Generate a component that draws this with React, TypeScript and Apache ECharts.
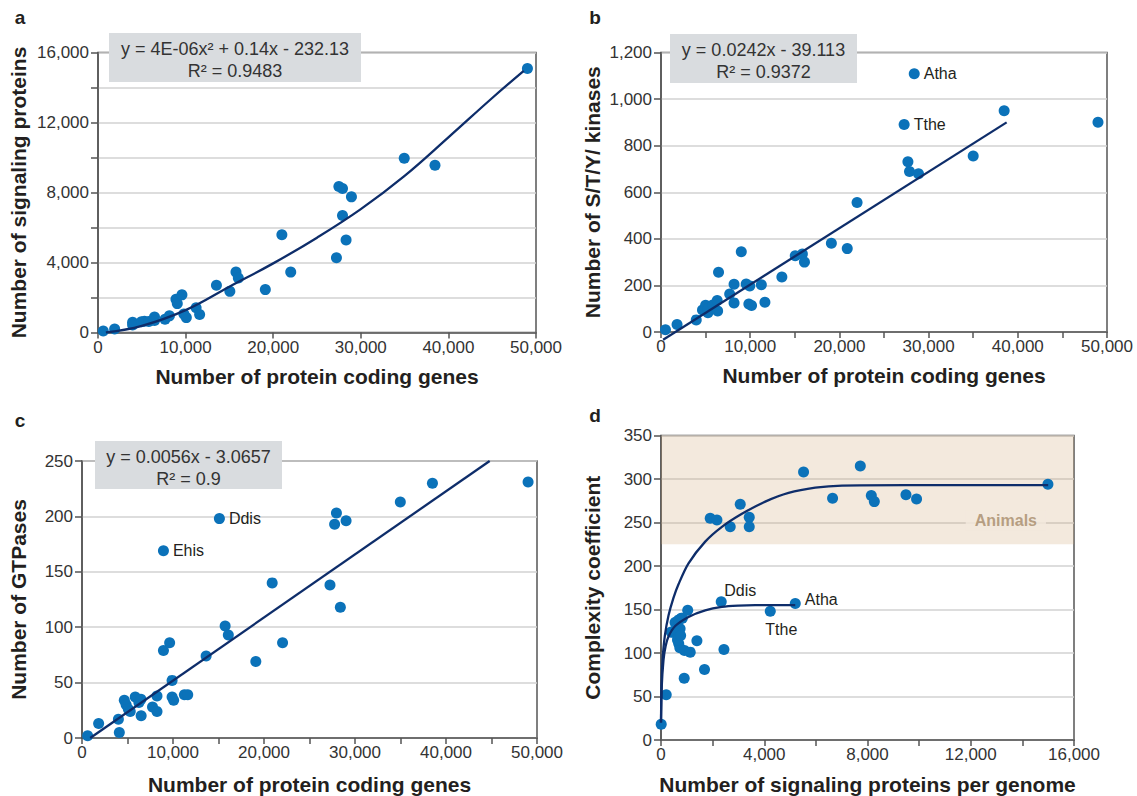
import React, { useEffect, useRef } from "react";
import * as echarts from "echarts";

type Pt = [number, number];
type Named = [string, number, number];

// ---------- Panel a: signaling proteins vs protein coding genes ----------
const signalingA: Pt[] = [
  [600, 80], [1900, 200], [3950, 580], [3950, 430], [4960, 610], [5300, 640], [5800, 630],
  [6450, 880], [6450, 680], [7650, 760], [8150, 950], [8900, 1900], [9050, 1650], [9580, 2150],
  [9800, 1050], [10080, 850], [11200, 1420], [11600, 1030], [13520, 2700], [15050, 2350],
  [15750, 3450], [16020, 3120], [19100, 2450], [20990, 5580], [22000, 3450], [27220, 4270],
  [27500, 8340], [27910, 8230], [27910, 6690], [28320, 5280], [28930, 7750], [34960, 9960],
  [38470, 9560], [49020, 15090],
];
const fitA: Pt[] = [
  [900, 0], [5000, 380], [10000, 1280], [15000, 2620], [20000, 3950], [25000, 5420],
  [30000, 7050], [35000, 8950], [40000, 11150], [45000, 13400], [48600, 14950],
];
const equationA = ["y = 4E-06x² + 0.14x - 232.13", "R² = 0.9483"];

// ---------- Panel b: S/T/Y kinases ----------
const kinasesB: Pt[] = [
  [500, 10], [1800, 32], [3950, 52], [4650, 94], [5000, 115], [5260, 83], [5300, 101], [5800, 116],
  [6300, 135], [6350, 90], [6450, 257], [7700, 163], [8190, 125], [8190, 205], [9000, 345],
  [9550, 206], [9950, 198], [9850, 120], [10150, 114], [11250, 203], [11650, 128], [13550, 236],
  [15050, 327], [15850, 335], [16080, 300], [19100, 381], [20880, 358], [21980, 556], [27680, 731],
  [27860, 689], [28870, 679], [35000, 756], [38470, 950], [48990, 901],
];
const kinasesNamed: Named[] = [["Atha", 28390, 1109], ["Tthe", 27260, 891]];
const fitB: Pt[] = [[240, -33], [38750, 900]];
const equationB = ["y = 0.0242x - 39.113", "R² = 0.9372"];

// ---------- Panel c: GTPases ----------
const gtpasesC: Pt[] = [
  [620, 2], [1830, 13], [4000, 17], [4100, 5], [4650, 34], [4850, 30], [5100, 26], [5300, 24],
  [5850, 37], [6250, 32], [6480, 35], [6500, 20], [7750, 28], [8240, 38], [8240, 24], [8950, 79],
  [9630, 86], [9900, 52], [9900, 37], [10070, 34], [11250, 39], [11620, 39], [13640, 74],
  [15730, 101], [16080, 93], [19100, 69], [20900, 140], [22040, 86], [27250, 138], [27760, 193],
  [27960, 203], [28390, 118], [29020, 196], [34980, 213], [38510, 230], [49020, 231],
];
const gtpasesNamed: Named[] = [["Ddis", 15100, 198], ["Ehis", 8950, 169]];
const fitC: Pt[] = [[900, 0], [44800, 250]];
const equationC = ["y = 0.0056x - 3.0657", "R² = 0.9"];

// ---------- Panel d: complexity coefficient ----------
const complexityD: Pt[] = [
  [8, 18], [202, 52], [395, 124], [446, 124], [546, 135], [577, 135], [616, 127], [659, 117],
  [678, 138], [686, 111], [729, 106], [740, 128], [783, 140], [826, 140], [640, 115], [760, 120],
  [1035, 149], [911, 103], [1132, 101], [899, 71], [1391, 114], [1686, 81], [2438, 104],
  [1907, 255], [2167, 253], [2682, 245], [3070, 271], [3419, 256], [3419, 245], [5523, 308],
  [6647, 278], [7721, 315], [8147, 281], [8264, 274], [9490, 282], [9900, 277], [14990, 294],
];
const complexityNamed: Named[] = [["Ddis", 2333, 159], ["Tthe", 4233, 148], ["Atha", 5202, 157]];
const fitUpperD: Pt[] = [
  [0, 20], [20, 62], [60, 92], [150, 120], [291, 143], [480, 163], [678, 179], [1066, 203],
  [1713, 228], [2360, 245], [3135, 260], [4039, 274], [4942, 284], [5977, 290], [7012, 292.5],
  [9465, 293], [15000, 293],
];
const fitLowerD: Pt[] = [
  [0, 20], [30, 62], [97, 92], [180, 108], [291, 119], [550, 131], [1066, 141.5], [1713, 149],
  [2360, 153], [3000, 154.5], [3651, 155], [5200, 155],
];
const animalsBand: [number, number] = [225, 350];
const animalsLabelAt: Pt = [13360, 252];

// ---------- styles ----------
const FONT = '"Liberation Sans", Arial, Helvetica, sans-serif';
const DOT = "#0b72b9";
const FIT = "#0e2d6a";
const AXIS = "#555555";
const GRIDLINE = "#d2d2d2";
const TXT = "#231f20";
const BOX = "#d9dcdf";
const BAND = "rgba(207, 167, 119, 0.25)";
const BAND_SOLID = "#f3e9dd";

const fmt = (v: number) => v.toLocaleString("en-US");

function xAxisOf(gridIndex: number, max: number, interval: number, labelStep: number, name: string, nameGap: number) {
  return {
    type: "value", gridIndex, min: 0, max, interval,
    name, nameLocation: "middle", nameGap,
    nameTextStyle: { fontFamily: FONT, fontWeight: "bold", fontSize: 21, color: TXT },
    axisLine: { show: true, onZero: false, lineStyle: { color: AXIS, width: 1.5 } },
    axisTick: { show: true, length: 6, lineStyle: { color: AXIS, width: 1.5 } },
    axisLabel: {
      fontFamily: FONT, fontSize: 17, color: "#333", margin: 6, showMaxLabel: true,
      formatter: (v: number) => (v % labelStep === 0 ? fmt(v) : ""),
    },
    splitLine: { show: false },
  };
}

function yAxisOf(gridIndex: number, max: number, interval: number, labelStep: number, name: string, nameGap: number) {
  return {
    type: "value", gridIndex, min: 0, max, interval,
    name, nameLocation: "middle", nameGap,
    nameTextStyle: { fontFamily: FONT, fontWeight: "bold", fontSize: 21, color: TXT },
    axisLine: { show: true, onZero: false, lineStyle: { color: AXIS, width: 1.5 } },
    axisTick: { show: true, length: 7, lineStyle: { color: AXIS, width: 1.5 } },
    axisLabel: {
      fontFamily: FONT, fontSize: 17, color: "#333", margin: 9, showMaxLabel: true,
      formatter: (v: number) => (v % labelStep === 0 ? fmt(v) : ""),
    },
    splitLine: { show: true, lineStyle: { color: GRIDLINE, width: 1.5 } },
  };
}

function dots(i: number, data: Pt[]) {
  return {
    type: "scatter", xAxisIndex: i, yAxisIndex: i, data, symbolSize: 11, z: 3,
    itemStyle: { color: DOT, opacity: 1 }, silent: true,
  };
}

function namedDots(i: number, data: Named[], offsets?: Record<string, [number, number]>) {
  return {
    type: "scatter", xAxisIndex: i, yAxisIndex: i, symbolSize: 11, z: 3, silent: true,
    itemStyle: { color: DOT, opacity: 1 },
    data: data.map(([n, x, y]) => ({
      name: n, value: [x, y],
      label: offsets && offsets[n]
        ? { position: "inside", offset: offsets[n] }
        : { position: "right", distance: 4 },
    })),
    label: { show: true, formatter: "{b}", fontFamily: FONT, fontSize: 16, color: TXT },
  };
}

function fitLine(i: number, data: Pt[], smooth: number | boolean, clip = true) {
  return {
    type: "line", xAxisIndex: i, yAxisIndex: i, data, showSymbol: false, symbol: "none",
    smooth, clip, z: 4, silent: true,
    lineStyle: { color: FIT, width: 2.3 },
  };
}

function eqBox(x: number, y: number, w: number, h: number, lines: string[]) {
  const cx = x + w / 2;
  return [
    { type: "rect", z: 100, shape: { x, y, width: w, height: h }, style: { fill: BOX } },
    {
      type: "text", z: 101, x: cx, y: y + 15.5,
      style: { text: lines[0], fontFamily: FONT, fontSize: 18, fill: "#333", align: "center", verticalAlign: "middle" },
    },
    {
      type: "text", z: 101, x: cx, y: y + 37.5,
      style: { text: lines[1], fontFamily: FONT, fontSize: 18, fill: "#333", align: "center", verticalAlign: "middle" },
    },
  ];
}

function panelLetter(t: string, x: number, y: number) {
  return {
    type: "text", z: 101, x, y,
    style: { text: t, fontFamily: FONT, fontWeight: "bold", fontSize: 19, fill: TXT, align: "center", verticalAlign: "middle" },
  };
}

export default function App() {
  const ref = useRef<HTMLDivElement>(null);

  useEffect(() => {
    document.body.style.margin = "0";
    if (!ref.current) return;
    const chart = echarts.init(ref.current, undefined, { renderer: "svg" });
    const gridStyle = { show: true, borderColor: AXIS, borderWidth: 1.5, backgroundColor: "transparent" };
    chart.setOption({
      animation: false,
      backgroundColor: "#ffffff",
      textStyle: { fontFamily: FONT },
      grid: [
        { ...gridStyle, left: 98, top: 52.5, width: 438, height: 280 },
        { ...gridStyle, left: 661, top: 52.5, width: 446, height: 279.5 },
        { ...gridStyle, left: 82, top: 461, width: 455, height: 278 },
        { ...gridStyle, left: 661, top: 435.5, width: 413, height: 304.5 },
      ],
      xAxis: [
        xAxisOf(0, 50000, 10000, 10000, "Number of protein coding genes", 33),
        xAxisOf(1, 50000, 5000, 10000, "Number of protein coding genes", 33),
        xAxisOf(2, 50000, 5000, 10000, "Number of protein coding genes", 36),
        xAxisOf(3, 16000, 2000, 4000, "Number of signaling proteins per genome", 34),
      ],
      yAxis: [
        yAxisOf(0, 16000, 2000, 4000, "Number of signaling proteins", 69),
        yAxisOf(1, 1200, 200, 200, "Number of S/T/Y/ kinases", 58),
        yAxisOf(2, 250, 50, 50, "Number of GTPases", 53),
        yAxisOf(3, 350, 50, 50, "Complexity coefficient", 58),
      ],
      series: [
        {
          type: "line", xAxisIndex: 3, yAxisIndex: 3, data: [], z: 1, silent: true,
          markArea: {
            silent: true, itemStyle: { color: BAND },
            data: [[{ yAxis: animalsBand[0] }, { yAxis: animalsBand[1] }]],
          },
        },
        dots(0, signalingA),
        fitLine(0, fitA, 0.4),
        dots(1, kinasesB),
        namedDots(1, kinasesNamed),
        fitLine(1, fitB, false, false),
        dots(2, gtpasesC),
        namedDots(2, gtpasesNamed),
        fitLine(2, fitC, false),
        dots(3, complexityD),
        namedDots(3, complexityNamed, { Ddis: [19, -11], Tthe: [11, 18], Atha: [26, -4] }),
        fitLine(3, fitUpperD, 0.3),
        fitLine(3, fitLowerD, 0.3),
        {
          type: "scatter", xAxisIndex: 3, yAxisIndex: 3, symbolSize: 0, silent: true, z: 5,
          data: [{ value: animalsLabelAt, name: "Animals" }],
          label: {
            show: true, position: "inside", formatter: "{b}", fontFamily: FONT, fontWeight: "bold",
            fontSize: 16, color: "#a68a69", backgroundColor: BAND_SOLID, padding: [2, 9],
          },
        },
      ],
      graphic: [
        ...eqBox(109, 33, 252, 49, equationA),
        ...eqBox(670, 34, 187, 49, equationB),
        ...eqBox(95, 441, 187, 48, equationC),
        panelLetter("a", 20, 17),
        panelLetter("b", 595, 17),
        panelLetter("c", 20, 420),
        panelLetter("d", 595, 415),
      ],
    });
    return () => chart.dispose();
  }, []);

  return <div ref={ref} style={{ width: 1137, height: 796 }} />;
}
